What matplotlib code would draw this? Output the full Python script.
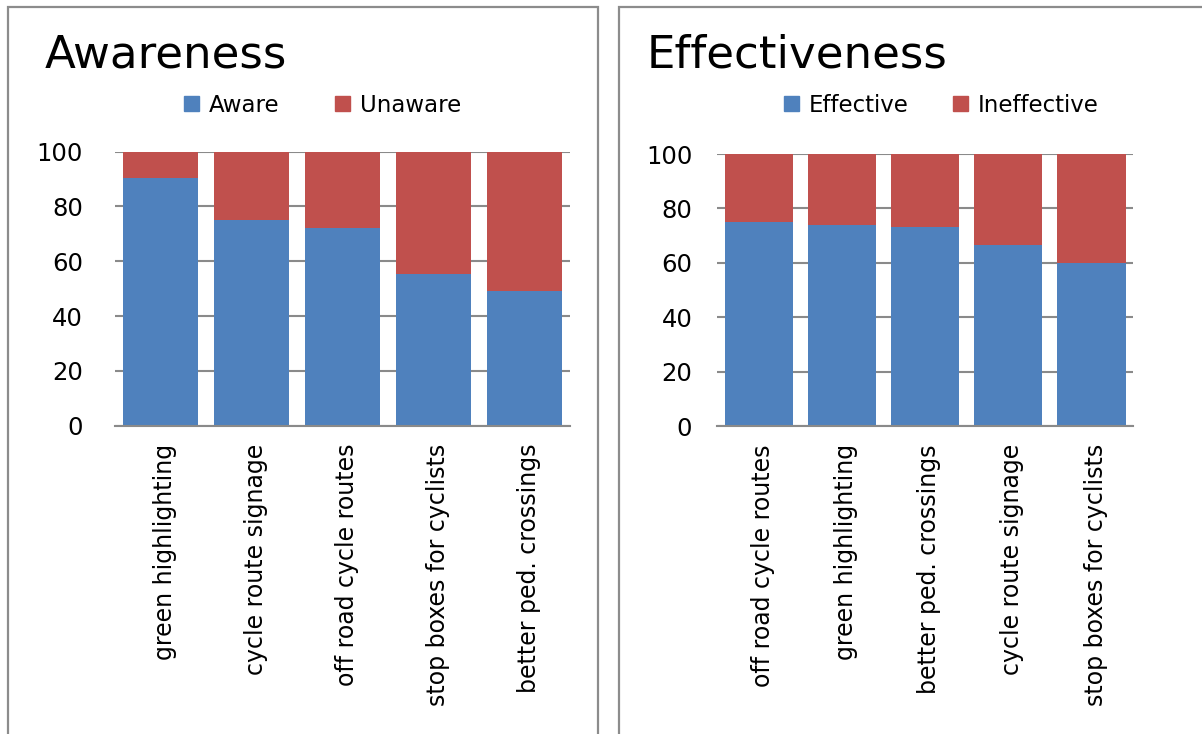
import matplotlib.pyplot as plt
from matplotlib.patches import Rectangle, Patch

# Data (percent of respondents)
aware_labels = ['green highlighting', 'cycle route signage', 'off road cycle routes',
                'stop boxes for cyclists', 'better ped. crossings']
aware = [90.5, 75, 72, 55.5, 49]
unaware = [100 - v for v in aware]

effect_labels = ['off road cycle routes', 'green highlighting', 'better ped. crossings',
                 'cycle route signage', 'stop boxes for cyclists']
effective = [75, 74, 73, 66.5, 60]
ineffective = [100 - v for v in effective]

yticks = [0, 20, 40, 60, 80, 100]

BLUE = '#4F81BD'
RED = '#C0504D'
GRID = '#8a8a8a'

plt.rcParams['font.family'] = 'DejaVu Sans'

W, H = 1202, 734
fig = plt.figure(figsize=(W / 100, H / 100), dpi=100)


def fx(px):
    return px / W


def fy(py):
    return 1 - py / H


# Panel frames
for x0, x1 in [(8, 598), (619, 1240)]:
    fig.patches.append(Rectangle((fx(x0), fy(760)), fx(x1 - x0), (760 - 7) / H,
                                 transform=fig.transFigure, fill=False,
                                 edgecolor='#8c8c8c', linewidth=1.6))


def stacked_panel(rect, labels, low, high, names, title, title_x, legend_x, ypad, colsp):
    ax = fig.add_axes(rect)
    x = list(range(len(labels)))
    ax.bar(x, low, width=0.82, color=BLUE, zorder=3)
    ax.bar(x, high, bottom=low, width=0.82, color=RED, zorder=3)
    ax.set_xlim(-0.5, len(labels) - 0.5)
    ax.set_ylim(0, 100)
    ax.set_yticks(yticks)
    # labels sit a touch right of the bar centres in the reference (ticks are invisible)
    ax.set_xticks([i + 0.05 for i in x])
    ax.set_xticklabels(labels, rotation=90, fontsize=17, va='top', ha='center')
    ax.tick_params(axis='x', length=0, pad=13)
    ax.tick_params(axis='y', length=0, pad=ypad, labelsize=17.5)
    ax.yaxis.grid(True, color=GRID, linewidth=1.5, zorder=0)
    for s in ['top', 'right', 'left']:
        ax.spines[s].set_visible(False)
    ax.spines['bottom'].set_color(GRID)
    ax.spines['bottom'].set_linewidth(1.5)
    ax.spines['bottom'].set_zorder(4)

    fig.text(fx(title_x), fy(68), title, fontsize=32.5, ha='left', va='baseline')

    handles = [Patch(color=BLUE, label=names[0]), Patch(color=RED, label=names[1])]
    fig.legend(handles=handles, loc='center left', ncol=2, frameon=False,
               bbox_to_anchor=(fx(legend_x), fy(105)), fontsize=16.5,
               handlelength=0.65, handleheight=0.65, handletextpad=0.45,
               columnspacing=colsp, borderpad=0, borderaxespad=0)
    return ax


stacked_panel([fx(115), fy(425.7), fx(570 - 115), (425.7 - 151.7) / H],
              aware_labels, aware, unaware, ['Aware', 'Unaware'],
              'Awareness', 45, 184, 23, 2.4)

stacked_panel([fx(717.3), fy(426), fx(1133 - 717.3), (426 - 154) / H],
              effect_labels, effective, ineffective, ['Effective', 'Ineffective'],
              'Effectiveness', 647, 784, 18, 1.9)

fig.savefig('out.png', dpi=100)
